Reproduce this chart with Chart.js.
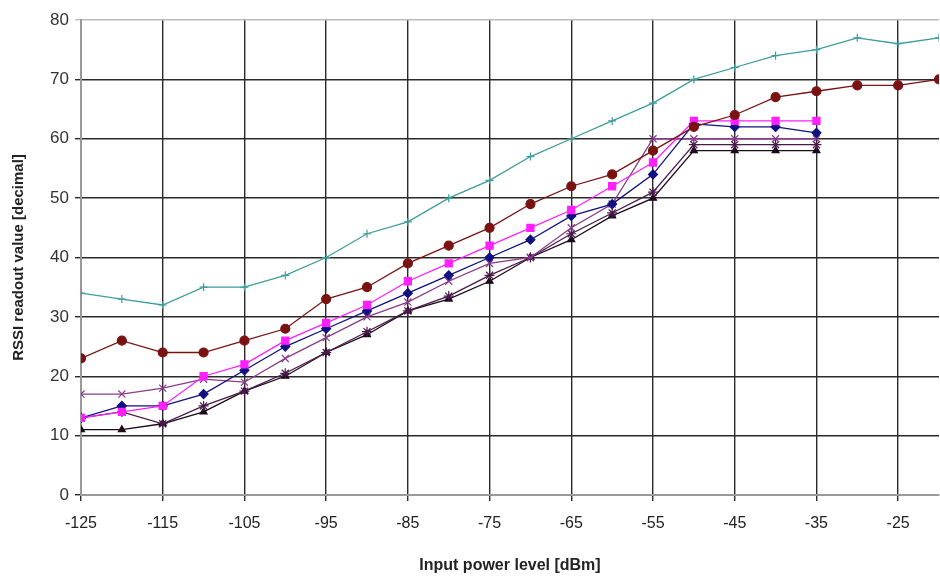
<!DOCTYPE html>
<html>
<head>
<meta charset="utf-8">
<script src="https://cdn.jsdelivr.net/npm/chart.js@4/dist/chart.umd.min.js"></script>
<style>
  html, body { margin: 0; padding: 0; background: #fff; }
  #grafico { display: block; }
</style>
</head>
<body>
<canvas id="grafico" width="940" height="579"></canvas>
<script>
// potencia de entrada (dBm), um ponto a cada 5 dBm
const potencia = [-125, -120, -115, -110, -105, -100, -95, -90, -85, -80, -75,
    -70, -65, -60, -55, -50, -45, -40, -35, -30, -25, -20];
const ticksX = [-125, -115, -105, -95, -85, -75, -65, -55, -45, -35, -25];

// leituras de RSSI por série
const serieTeal = [34, 33, 32, 35, 35, 37, 40, 44, 46, 50, 53, 57, 60, 63, 66, 70, 72, 74, 75, 77, 76, 77];
const serieMarrom = [23, 26, 24, 24, 26, 28, 33, 35, 39, 42, 45, 49, 52, 54, 58, 62, 64, 67, 68, 69, 69, 70];
const serieMagenta = [13, 14, 15, 20, 22, 26, 29, 32, 36, 39, 42, 45, 48, 52, 56, 63, 63, 63, 63];
const serieAzul = [13, 15, 15, 17, 21, 25, 28, 31, 34, 37, 40, 43, 47, 49, 54, 62.5, 62, 62, 61];
const serieX = [17, 17, 18, 19.5, 19, 23, 26.5, 30, 32.5, 36, 39, 40, 45, 49, 60, 60, 60, 60, 60];
const serieEstrela = [13, 14, 12, 15, 17.5, 20.5, 24, 27.5, 31, 33.5, 37, 40, 44, 47.5, 51, 59, 59, 59, 59];
const serieTriangulo = [11, 11, 12, 14, 17.5, 20, 24, 27, 31, 33, 36, 40, 43, 47, 50, 58, 58, 58, 58];

function pontos(valores) {
    return valores.map((v, i) => ({ x: potencia[i], y: v }));
}

const fonte = "'Liberation Sans', Arial, sans-serif";

const series = [
    { dados: serieTeal, cor: '#3f9c9c', estilo: 'cross', raio: 4, largura: 1.3 },
    { dados: serieMarrom, cor: '#7a1212', estilo: 'circle', raio: 4.5, largura: 1.3 },
    { dados: serieMagenta, cor: '#ff1fff', estilo: 'rect', raio: 5, largura: 1.3 },
    { dados: serieAzul, cor: '#101080', estilo: 'rectRot', raio: 4.5, largura: 1.3 },
    { dados: serieX, cor: '#8a3a8a', estilo: 'crossRot', raio: 5, largura: 1.3 },
    { dados: serieEstrela, cor: '#4a1a4a', estilo: 'star', raio: 5, largura: 1.3 },
    { dados: serieTriangulo, cor: '#1a0a1a', estilo: 'triangle', raio: 4, largura: 1.3 }
];

const ctx = document.getElementById('grafico').getContext('2d');
new Chart(ctx, {
    type: 'line',
    data: {
        datasets: series.map(s => ({
            data: pontos(s.dados),
            borderColor: s.cor,
            backgroundColor: s.cor,
            borderWidth: s.largura,
            pointStyle: s.estilo,
            pointRadius: s.raio,
            pointBorderWidth: 1.2,
            tension: 0
        }))
    },
    options: {
        responsive: false,
        animation: false,
        layout: { autoPadding: false, padding: { top: 20, right: 1, left: 0, bottom: 0 } },
        plugins: {
            legend: { display: false },
            tooltip: { enabled: false }
        },
        scales: {
            x: {
                type: 'linear',
                min: -125,
                max: -20,
                afterBuildTicks: scale => {
                    scale.ticks = ticksX.map(v => ({ value: v }));
                },
                afterFit: scale => { scale.height = 84; },
                grid: { color: '#2a2a2a', lineWidth: 1.4, tickLength: 6, drawTicks: true },
                border: { color: '#999', width: 2 },
                ticks: {
                    color: '#222',
                    font: { family: fonte, size: 16 },
                    padding: 13,
                    maxRotation: 0,
                    autoSkip: false
                },
                title: {
                    display: true,
                    text: 'Input power level [dBm]',
                    color: '#222',
                    font: { family: fonte, size: 16, weight: 'bold' },
                    padding: { top: 6 }
                }
            },
            y: {
                min: 0,
                max: 80,
                afterFit: scale => { scale.width = 81; },
                grid: { color: ctx2 => ctx2.tick && ctx2.tick.value === 80 ? '#bbb' : '#2a2a2a', lineWidth: 1.4, tickLength: 6 },
                border: { color: '#999', width: 2 },
                ticks: {
                    stepSize: 10,
                    color: '#333',
                    font: { family: fonte, size: 17 },
                    padding: 6
                },
                title: {
                    display: true,
                    text: 'RSSI readout value [decimal]',
                    color: '#222',
                    font: { family: fonte, size: 15, weight: 'bold' },
                    padding: { top: 10, bottom: 4 }
                }
            }
        }
    }
});
</script>
</body>
</html>
